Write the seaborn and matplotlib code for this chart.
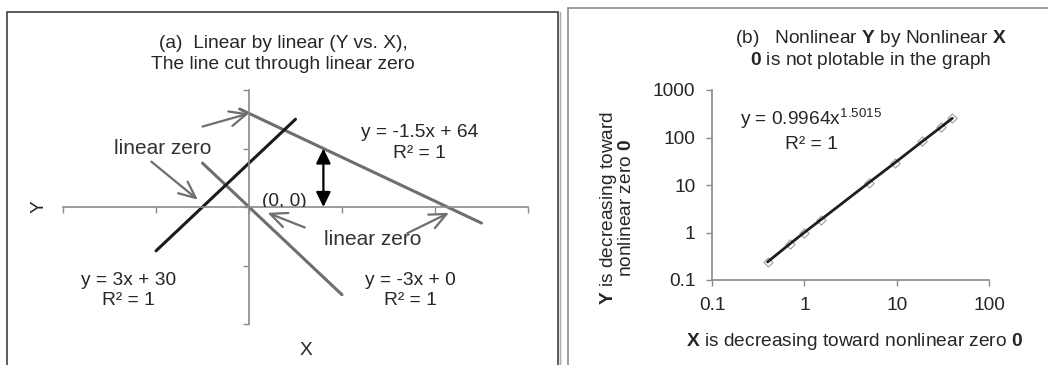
import numpy as np
import pandas as pd
import matplotlib
matplotlib.use('Agg')
import matplotlib.pyplot as plt
import seaborn as sns
from matplotlib.patches import Rectangle

# ---------------- panel (a) data ----------------
line_a_x = [-2, 50]      # y = -1.5x + 64
line_a_y = [67, -11]
line_b_x = [-10, 20]     # y = -3x + 0
line_b_y = [30, -60]
line_c_x = [-20, 10]     # y = 3x + 30
line_c_y = [-30, 60]
a_xticks = [-40, -20, 0, 20, 40, 60]
a_yticks = [-80, -40, 0, 40, 80]

# ---------------- panel (b) data ----------------
b_x = [0.4, 0.7, 1.0, 1.5, 5.0, 9.5, 19.0, 30.0, 40.0]
b_y = [0.24, 0.58, 1.0, 1.84, 11.2, 29.0, 83.0, 164.0, 254.0]
b_xticks = [0.1, 1, 10, 100]
b_xticklabels = ['0.1', '1', '10', '100']
b_yticks = [0.1, 1, 10, 100, 1000]
b_yticklabels = ['0.1', '1', '10', '100', '1000']

sns.set_style('white')
plt.rcParams['font.family'] = ['Liberation Sans', 'DejaVu Sans']
plt.rcParams['mathtext.fontset'] = 'custom'
plt.rcParams['mathtext.rm'] = 'Liberation Sans'
plt.rcParams['mathtext.bf'] = 'Liberation Sans:bold'
plt.rcParams['mathtext.it'] = 'Liberation Sans:italic'

GREY = '#6e6e6e'
AXC = '#8a8a8a'
FS = 13.8

W, H = 1048, 365
fig = plt.figure(figsize=(W / 100, H / 100), dpi=100)
fig.patch.set_facecolor('white')

# panel frames
fig.add_artist(Rectangle((7 / W, -0.1), (558 - 7) / W, 1.1 - 12 / H, transform=fig.transFigure,
                         fill=False, edgecolor='#404040', lw=1.2))
fig.add_artist(Rectangle((560 / W, -0.1), 0, 1.1 - 12 / H, transform=fig.transFigure,
                         fill=False, edgecolor='#b0b0b0', lw=1.0))
fig.add_artist(Rectangle((568 / W, -0.1), 1.0, 1.1 - 8 / H, transform=fig.transFigure,
                         fill=False, edgecolor='#8c8c8c', lw=1.2))

# ================= panel (a) =================
axA = fig.add_axes([63 / W, 1 - 324 / H, 465 / W, 234 / H])
axA.set_facecolor('none')
sns.lineplot(x=line_a_x, y=line_a_y, ax=axA, color=GREY, lw=2.2, estimator=None)
sns.lineplot(x=line_b_x, y=line_b_y, ax=axA, color=GREY, lw=2.2, estimator=None)
sns.lineplot(x=line_c_x, y=line_c_y, ax=axA, color='#1a1a1a', lw=2.2, estimator=None)
axA.set_xlim(a_xticks[0], a_xticks[-1])
axA.set_ylim(a_yticks[0], a_yticks[-1])
axA.set_xticks(a_xticks)
axA.set_yticks(a_yticks)
axA.tick_params(labelbottom=False, labelleft=False, direction='out', length=4,
                width=1, color=AXC, bottom=True, left=True)
for s in ['top', 'right']:
    axA.spines[s].set_visible(False)
axA.spines['left'].set_position(('data', 0))
axA.spines['bottom'].set_position(('data', 0))
for s in ['left', 'bottom']:
    axA.spines[s].set_color(AXC)
    axA.spines[s].set_linewidth(1.2)

axA.set_title('(a)  Linear by linear (Y vs. X),\nThe line cut through linear zero',
              x=0.473, y=1.154, va='center', ha='center', fontsize=FS, pad=0,
              linespacing=1.3)
axA.set_xlabel('X', fontsize=FS, va='center')
axA.set_ylabel('Y', fontsize=FS, va='center')
axA.xaxis.set_label_coords(0.5226, -0.113)
axA.yaxis.set_label_coords(-0.0516, 0.5)

arrow_kw = dict(arrowstyle='->,head_length=0.6,head_width=0.27', color=GREY, lw=1.6,
                mutation_scale=20, shrinkA=0, shrinkB=0)
arrows = [((-10, 55), (0, 64)), ((-21, 31), (-11, 5)),
          ((12, -14), (4, -4)), ((34, -18), (43, -4))]
for start, end in arrows:
    axA.annotate('', xy=end, xytext=start, arrowprops=arrow_kw, annotation_clip=False)
axA.annotate('', xy=(16, 40), xytext=(16, 0),
             arrowprops=dict(arrowstyle='<|-|>,head_length=0.45,head_width=0.22', color='black',
                             lw=1.6, mutation_scale=20, shrinkA=0, shrinkB=0))

axA.text(-18.5, 40.3, 'linear zero', fontsize=15, ha='center', va='center', color='#333333')
axA.text(26.5, -21.9, 'linear zero', fontsize=15, ha='center', va='center', color='#333333')
axA.text(36.6, 43.8, 'y = -1.5x + 64\nR² = 1', fontsize=FS, ha='center', va='center',
         linespacing=1.25)
axA.text(-26, -57, 'y = 3x + 30\nR² = 1', fontsize=FS, ha='center', va='center', linespacing=1.25)
axA.text(34.6, -57, 'y = -3x + 0\nR² = 1', fontsize=FS, ha='center', va='center', linespacing=1.25)
t00 = axA.text(7.7, 1.0, '(0, 0)', fontsize=FS, ha='center', va='baseline')
clip = Rectangle((-40, 0), 100, 80, transform=axA.transData)
t00.set_clip_on(True)
t00.set_clip_path(clip)

# ================= panel (b) =================
axB = fig.add_axes([712 / W, 1 - 280 / H, 277 / W, 190 / H])
axB.set_facecolor('none')
dfb = pd.DataFrame({'x': b_x, 'y': b_y})
sns.scatterplot(data=dfb, x='x', y='y', ax=axB, marker='D', s=22, facecolor='white',
                edgecolor='#a8a8a8', linewidth=0.9, zorder=2)
sns.lineplot(data=dfb, x='x', y='y', ax=axB, color='#1e1e1e', lw=2.0, estimator=None, zorder=3)
axB.set_xscale('log')
axB.set_yscale('log')
axB.set_xlim(0.1, 100)
axB.set_ylim(0.1, 1000)
axB.set_xticks(b_xticks)
axB.set_xticklabels(b_xticklabels)
axB.set_yticks(b_yticks)
axB.set_yticklabels(b_yticklabels)
axB.minorticks_off()
axB.tick_params(direction='out', length=4, width=1, color=AXC, labelsize=FS, pad=8,
                bottom=True, left=True)
for s in ['top', 'right']:
    axB.spines[s].set_visible(False)
for s in ['left', 'bottom']:
    axB.spines[s].set_color(AXC)
    axB.spines[s].set_linewidth(1.2)

axB.set_title('(b)   Nonlinear $\\mathbf{Y}$ by Nonlinear $\\mathbf{X}$\n'
              '$\\mathbf{0}$ is not plotable in the graph',
              x=0.574, y=1.214, va='center', ha='center', fontsize=FS, pad=0, linespacing=1.05)
axB.set_xlabel('$\\mathbf{X}$ is decreasing toward nonlinear zero $\\mathbf{0}$',
               fontsize=FS, va='center')
axB.set_ylabel('$\\mathbf{Y}$ is decreasing toward\nnonlinear zero $\\mathbf{0}$',
               fontsize=FS, va='center', linespacing=0.95)
axB.xaxis.set_label_coords(0.516, -0.325)
axB.yaxis.set_label_coords(-0.345, 0.38)

axB.text(0.359, 0.847, 'y = 0.9964$\\mathrm{x}^{1.5015}$', transform=axB.transAxes,
         fontsize=FS, ha='center', va='center')
axB.text(0.359, 0.712, 'R² = 1', transform=axB.transAxes, fontsize=FS, ha='center', va='center')

fig.savefig('out.png', dpi=100, facecolor='white')
